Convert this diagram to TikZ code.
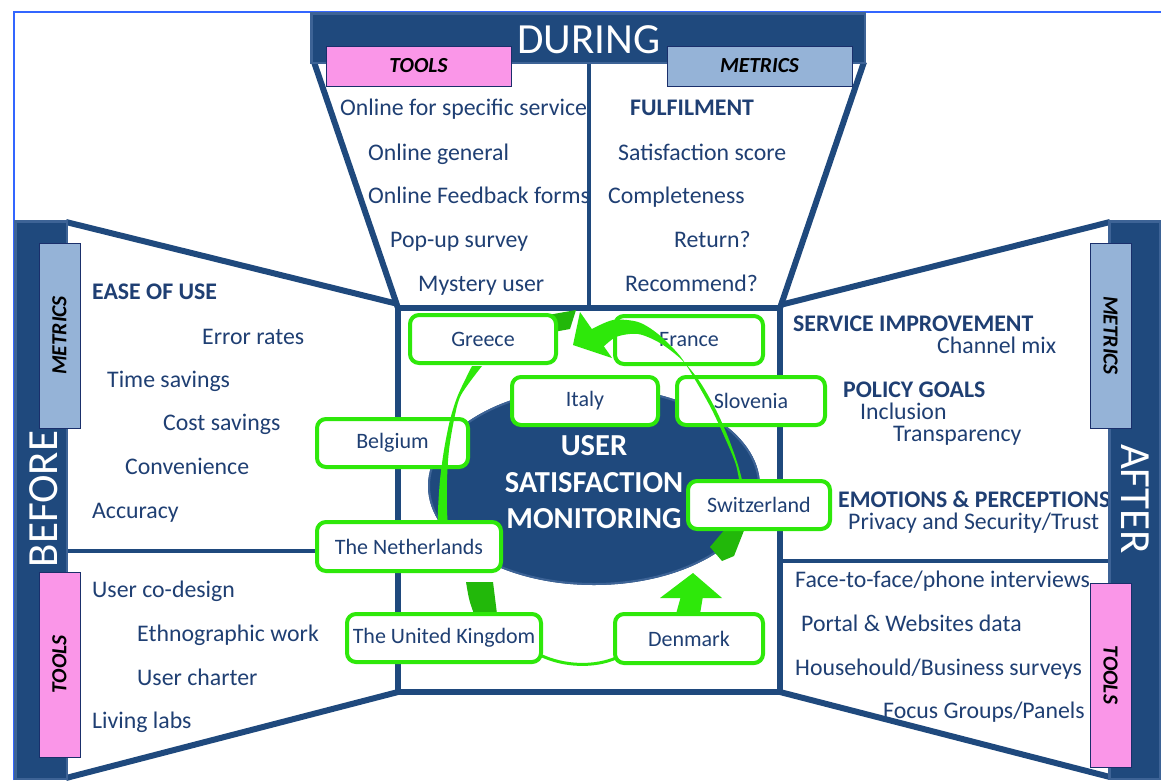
\documentclass[tikz,border=0pt]{standalone}
\usepackage{fontspec}
\setmainfont{Carlito}
\definecolor{navy}{HTML}{1F497D}
\definecolor{navylt}{HTML}{3D6396}
\definecolor{txt}{HTML}{1F3F73}
\definecolor{cpink}{HTML}{FA96E8}
\definecolor{cmet}{HTML}{95B3D7}
\definecolor{cgreen}{HTML}{2EE80A}
\definecolor{dgreen}{HTML}{22B80A}
\definecolor{frameb}{HTML}{3366FF}
\definecolor{boxedge}{HTML}{1A2F6B}
\tikzset{
  lst/.style={anchor=base west, inner sep=0pt, text=txt, font=\fontsize{23.8}{28}\selectfont},
  lstb/.style={anchor=base west, inner sep=0pt, text=txt, font=\fontsize{23.8}{28}\selectfont\bfseries},
  pinkbox/.style={fill=cpink, draw=boxedge, line width=1pt, inner sep=0pt, text=black, font=\fontsize{21.5}{25}\selectfont\bfseries\itshape},
  metbox/.style={fill=cmet, draw=boxedge, line width=1pt, inner sep=0pt, text=black, font=\fontsize{21.5}{25}\selectfont\bfseries\itshape},
  bigtitle/.style={anchor=base, inner sep=0pt, text=white, font=\fontsize{43}{50}\selectfont},
  panelline/.style={draw=navy, line width=6pt},
  divline/.style={draw=navy, line width=4.5pt},
  cty/.style={draw=cgreen, line width=4pt, fill=white, rounded corners=9pt, minimum height=48pt, inner sep=0pt, text=txt, font=\fontsize{22}{26}\selectfont},
  gthin/.style={draw=cgreen, line width=3pt},
}
\begin{document}
\begin{tikzpicture}[x=1pt,y=-1pt]
\useasboundingbox (0,0) rectangle (1161,780);
\fill[white] (0,0) rectangle (1161,780);
\draw[frameb, line width=2pt] (14,780) -- (14,12) -- (1161,12);

% ---------- DURING texts
\node[lst] (d1) at (340,115) {Online for specific service};
\node[lst] (d2) at (368,160) {Online general};
\node[lst] (d3) at (368,203) {Online Feedback forms};
\node[lst] (d4) at (390,247) {Pop-up survey};
\node[lst] (d5) at (418,291) {Mystery user};
\node[lstb] (m1) at (630,115) {FULFILMENT};
\node[lst] (m2) at (618,160) {Satisfaction score};
\node[lst] (m3) at (608,203) {Completeness};
\node[lst] (m4) at (674,247) {Return?};
\node[lst] (m5) at (625,291) {Recommend?};

% ---------- BEFORE texts
\node[lstb] (b1) at (92,299) {EASE OF USE};
\node[lst] (b2) at (202,344) {Error rates};
\node[lst] (b3) at (107,387) {Time savings};
\node[lst] (b4) at (163,430) {Cost savings};
\node[lst] (b5) at (125,474) {Convenience};
\node[lst] (b6) at (92,518) {Accuracy};
\node[lst] (t1) at (92,597) {User co-design};
\node[lst] (t2) at (137,641) {Ethnographic work};
\node[lst] (t3) at (137,685) {User charter};
\node[lst] (t4) at (92,728) {Living labs};

% ---------- AFTER texts
\node[lstb] (a1) at (793,331) {SERVICE IMPROVEMENT};
\node[lst] (a2) at (937,353) {Channel mix};
\node[lstb] (a3) at (843,397) {POLICY GOALS};
\node[lst] (a4) at (860,419) {Inclusion};
\node[lst] (a5) at (893,441) {Transparency};
\node[lstb] (a6) at (838,507) {EMOTIONS \& PERCEPTIONS};
\node[lst] (a7) at (848,529) {Privacy and Security/Trust};
\node[lst] (r1) at (795,587) {Face-to-face/phone interviews};
\node[lst] (r2) at (801,631) {Portal \& Websites data};
\node[lst] (r3) at (795,675) {Househould/Business surveys};
\node[lst] (r4) at (883,718) {Focus Groups/Panels};

% ---------- panel lines
\draw[panelline] (314,62) -- (398,308);
\draw[panelline] (864,62) -- (780,308);
\draw[divline] (589,62) -- (589,308);
\draw[panelline] (66,222) -- (398,304);
\draw[panelline] (66,778) -- (398,692);
\draw[divline] (66,551) -- (398,551);
\draw[panelline] (1110,222) -- (780,305);
\draw[panelline] (1110,777) -- (780,692);
\draw[divline] (780,561) -- (1110,561);
\draw[panelline] (398,308) rectangle (780,692);

% ---------- header bars
\fill[navy] (310,12) rectangle (866,64);
\draw[navylt, line width=2.5pt] (311.25,13.25) rectangle (864.75,62.75);
\fill[navy] (14,220) rectangle (68,780);
\draw[navylt, line width=2.5pt] (15.25,221.25) rectangle (66.75,778.75);
\fill[navy] (1108,220) rectangle (1161,780);
\draw[navylt, line width=2.5pt] (1109.25,221.25) rectangle (1159.75,778.75);

\node[bigtitle] (during) at (589,53) {DURING};
\node[bigtitle, rotate=90] (before) at (57,499) {BEFORE};
\node[bigtitle, rotate=-90] (after) at (1121,499) {AFTER};

\node[pinkbox, minimum width=185pt, minimum height=40pt] (dtools) at (418.5,66) {TOOLS};
\node[metbox, minimum width=185pt, minimum height=40pt] (dmet) at (759.5,66) {METRICS};
\node[metbox, rotate=90, minimum width=185pt, minimum height=41pt] (bmet) at (59.5,335.5) {METRICS};
\node[pinkbox, rotate=90, minimum width=185pt, minimum height=41pt] (btools) at (59.5,664.5) {TOOLS};
\node[metbox, rotate=-90, minimum width=185pt, minimum height=41pt] (amet) at (1110.5,335.5) {METRICS};
\node[pinkbox, rotate=-90, minimum width=184pt, minimum height=41pt] (atools) at (1110.5,675) {TOOLS};

% ---------- centre ellipse
\fill[navy] (594,486) ellipse [x radius=166pt, y radius=99pt];
\draw[navylt, line width=2pt] (594,486) ellipse [x radius=165pt, y radius=98pt];
\node[inner sep=0pt, align=center, text=white, font=\fontsize{30.5}{36.5}\selectfont\bfseries] (usm) at (594,482.5) {USER\\SATISFACTION\\MONITORING};

% ---------- green arrows, under the boxes
\fill[dgreen] (548,315) -- (576,310) -- (570,329) -- (548,333) -- cycle;
\fill[dgreen] (466,582) .. controls (478,582) .. (493,582) -- (497,614) -- (474,614) .. controls (469,600) .. cycle;
\fill[dgreen] (726,528) -- (745,528) -- (734,556) -- (722,561) -- (710,547) -- cycle;
\draw[gthin] (540,655) .. controls (565,667) and (595,667) .. (616,658);
\fill[cgreen] (676,614) -- (700,614) -- (703,596) -- (681,596) -- cycle;
\fill[cgreen] (660,598) -- (693,573) -- (722,598) -- cycle;

% ---------- boxes crossed by the arcs
\node[cty, minimum width=151pt] (belgium) at (392.5,443) {Belgium};
\node[cty, minimum width=148pt] (france) at (689,340) {France};
\node[cty, minimum width=148pt] (slovenia) at (751,401) {Slovenia};

% ---------- arcs drawn over those boxes
\fill[cgreen] plot[smooth] coordinates {(590,330) (613,320) (638,322) (658,334) (680,356) (697,383) (712,410) (725,438) (736,465) (741,492)}
  -- plot[smooth] coordinates {(745,492) (738,465) (728,437) (716,410) (700,382) (682,360) (660,343) (638,334) (616,337) (600,350)} -- cycle;
\fill[cgreen] (573,345) -- (580,312) -- (612,358) -- cycle;
\fill[cgreen] plot[smooth] coordinates {(472,366) (458,395) (450,420) (444,450) (440,480) (438,510) (438,526)}
  -- plot[smooth] coordinates {(448,526) (447,510) (447,480) (449,450) (454,420) (461,395) (482,366)} -- cycle;

% ---------- remaining boxes
\node[cty, minimum width=146pt] (greece) at (483,339) {Greece};
\node[cty, minimum width=146pt] (italy) at (585,401) {Italy};
\node[cty, minimum width=142pt] (switzerland) at (759,505) {Switzerland};
\node[cty, minimum width=184pt, minimum height=49pt] (netherlands) at (409,546.5) {The Netherlands};
\node[cty, minimum width=194pt] (uk) at (444,638) {The United Kingdom};
\node[cty, minimum width=148pt, minimum height=49pt] (denmark) at (689,638.5) {Denmark};
\end{tikzpicture}
\end{document}
